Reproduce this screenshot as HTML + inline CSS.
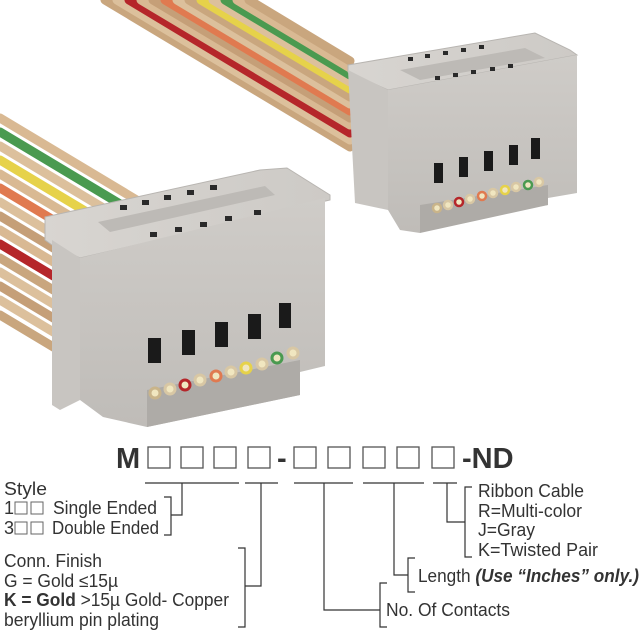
<!DOCTYPE html>
<html><head><meta charset="utf-8"><style>
html,body{margin:0;padding:0;background:#fff;}
svg{display:block;}
text{font-family:"Liberation Sans",Arial,sans-serif;fill:#333;}
</style></head><body>
<svg width="640" height="640" viewBox="0 0 640 640" xmlns="http://www.w3.org/2000/svg">
<defs>
<linearGradient id="fg" x1="0" y1="0" x2="0" y2="1"><stop offset="0" stop-color="#cfccc8"/><stop offset="1" stop-color="#bfbcb8"/></linearGradient>
<linearGradient id="tg" x1="0" y1="0" x2="1" y2="0"><stop offset="0" stop-color="#d8d5d1"/><stop offset="1" stop-color="#cdcac6"/></linearGradient>
</defs>
<g stroke-linecap="round" fill="none" stroke-width="9">
<path d="M105 0 L350 147" stroke="#c9a67e"/>
<path d="M117 0 L350 140" stroke="#dcc09c"/>
<path d="M129 0 L350 133" stroke="#b5262a"/>
<path d="M141 0 L350 125" stroke="#d9b993"/>
<path d="M153 0 L350 118" stroke="#c59f78"/>
<path d="M165 0 L350 111" stroke="#e07a50"/>
<path d="M177 0 L350 104" stroke="#dcc09c"/>
<path d="M189 0 L350 97" stroke="#c9a67e"/>
<path d="M201 0 L350 89" stroke="#e6d24a"/>
<path d="M213 0 L350 82" stroke="#dcc09c"/>
<path d="M225 0 L350 75" stroke="#4a9a50"/>
<path d="M237 0 L350 68" stroke="#d9b993"/>
<path d="M249 0 L350 61" stroke="#c9a67e"/>
</g>
<g stroke-linecap="round" fill="none" stroke-width="9">
<path d="M0 315 L120 387" stroke="#c9a67e"/>
<path d="M0 300 L130 378" stroke="#dcc09c"/>
<path d="M0 286 L140 370" stroke="#c59f78"/>
<path d="M0 272 L150 362" stroke="#dcc09c"/>
<path d="M0 258 L160 354" stroke="#c9a67e"/>
<path d="M0 244 L170 346" stroke="#b5262a"/>
<path d="M0 230 L180 338" stroke="#d9b993"/>
<path d="M0 216 L190 330" stroke="#c59f78"/>
<path d="M0 202 L200 322" stroke="#dcc09c"/>
<path d="M0 188 L210 314" stroke="#e07a50"/>
<path d="M0 174 L220 306" stroke="#d9b993"/>
<path d="M0 160 L230 298" stroke="#e6d24a"/>
<path d="M0 146 L240 290" stroke="#dcc09c"/>
<path d="M0 132 L250 282" stroke="#4a9a50"/>
<path d="M0 118 L260 274" stroke="#d9b993"/>
</g>
<g>
<polygon points="348,65 535,33 570,50 577,55 388,90 348,72" fill="url(#tg)" stroke="#b8b5b1" stroke-width="1"/>
<polygon points="400,70 525,48 545,58 420,80" fill="#bdbab6"/>
<polygon points="348,70 388,90 388,210 355,203" fill="#c8c5c1"/>
<polygon points="388,90 577,55 577,193 548,198 548,205 420,225 420,233 400,230 388,210" fill="url(#fg)"/>
<polygon points="420,205 548,185 548,205 420,233" fill="#aeaba7"/>
<g fill="#1a1a1a">
<rect x="434" y="163" width="9" height="20"/><rect x="459" y="157" width="9" height="20"/><rect x="484" y="151" width="9" height="20"/><rect x="509" y="145" width="9" height="20"/><rect x="531" y="138" width="9" height="21"/>
</g>
<g stroke-width="2.5">
<circle cx="437" cy="208" r="4" fill="#f0e6c0" stroke="#c9b48a"/><circle cx="448" cy="205" r="4" fill="#f0e6c0" stroke="#d8c7a4"/><circle cx="459" cy="202" r="4" fill="#f0e6c0" stroke="#b5262a"/><circle cx="470" cy="199" r="4" fill="#f0e6c0" stroke="#d8c7a4"/><circle cx="482" cy="196" r="4" fill="#f0e6c0" stroke="#e07a50"/><circle cx="493" cy="193" r="4" fill="#f0e6c0" stroke="#d8c7a4"/><circle cx="505" cy="190" r="4" fill="#f0e6c0" stroke="#e6d24a"/><circle cx="516" cy="187" r="4" fill="#f0e6c0" stroke="#d8c7a4"/><circle cx="528" cy="185" r="4" fill="#f0e6c0" stroke="#4a9a50"/><circle cx="539" cy="182" r="4" fill="#f0e6c0" stroke="#d8c7a4"/>
</g>
<g fill="#2a2a2a"><rect x="408" y="57" width="5" height="4"/><rect x="425" y="54" width="5" height="4"/><rect x="443" y="51" width="5" height="4"/><rect x="461" y="48" width="5" height="4"/><rect x="479" y="45" width="5" height="4"/>
<rect x="435" y="76" width="5" height="4"/><rect x="453" y="73" width="5" height="4"/><rect x="471" y="70" width="5" height="4"/><rect x="490" y="67" width="5" height="4"/><rect x="508" y="64" width="5" height="4"/></g>
</g>
<g>
<polygon points="45,217 260,170 287,168 330,195 330,200 80,258 52,245 45,240" fill="url(#tg)" stroke="#b8b5b1" stroke-width="1"/>
<polygon points="98,222 265,186 275,195 110,232" fill="#bdbab6"/>
<polygon points="52,240 80,258 80,400 60,410 52,405" fill="#c8c5c1"/>
<polygon points="80,258 325,198 325,366 300,372 300,395 147,427 103,417 80,400" fill="url(#fg)"/>
<polygon points="147,390 300,360 300,395 147,427" fill="#aeaba7"/>
<g fill="#1a1a1a">
<rect x="148" y="338" width="13" height="25"/><rect x="182" y="330" width="13" height="25"/><rect x="215" y="322" width="13" height="25"/><rect x="248" y="314" width="13" height="25"/><rect x="279" y="303" width="12" height="25"/>
</g>
<g stroke-width="3">
<circle cx="155" cy="393" r="5" fill="#f0e6c0" stroke="#c9b48a"/><circle cx="170" cy="389" r="5" fill="#f0e6c0" stroke="#d8c7a4"/><circle cx="185" cy="385" r="5" fill="#f0e6c0" stroke="#b5262a"/><circle cx="200" cy="380" r="5" fill="#f0e6c0" stroke="#d8c7a4"/><circle cx="216" cy="376" r="5" fill="#f0e6c0" stroke="#e07a50"/><circle cx="231" cy="372" r="5" fill="#f0e6c0" stroke="#d8c7a4"/><circle cx="246" cy="368" r="5" fill="#f0e6c0" stroke="#e6d24a"/><circle cx="262" cy="364" r="5" fill="#f0e6c0" stroke="#d8c7a4"/><circle cx="277" cy="358" r="5" fill="#f0e6c0" stroke="#4a9a50"/><circle cx="293" cy="353" r="5" fill="#f0e6c0" stroke="#d8c7a4"/>
</g>
<g fill="#2a2a2a"><rect x="120" y="205" width="7" height="5"/><rect x="142" y="200" width="7" height="5"/><rect x="164" y="195" width="7" height="5"/><rect x="187" y="190" width="7" height="5"/><rect x="210" y="185" width="7" height="5"/>
<rect x="150" y="232" width="7" height="5"/><rect x="175" y="227" width="7" height="5"/><rect x="200" y="222" width="7" height="5"/><rect x="225" y="216" width="7" height="5"/><rect x="254" y="210" width="7" height="5"/></g>
</g>

<text x="116" y="468" font-size="29" font-weight="bold">M</text>
<g fill="none" stroke="#555" stroke-width="1.3">
<rect x="148" y="447" width="22" height="21"/><rect x="181" y="447" width="22" height="21"/><rect x="214" y="447" width="22" height="21"/><rect x="248" y="447" width="22" height="21"/>
<rect x="294" y="447" width="22" height="21"/><rect x="328" y="447" width="22" height="21"/><rect x="363" y="447" width="22" height="21"/><rect x="397" y="447" width="22" height="21"/><rect x="432" y="447" width="22" height="21"/>
</g>
<text x="277" y="468" font-size="29" font-weight="bold">-</text>
<text x="462" y="468" font-size="29" font-weight="bold">-ND</text>

<g stroke="#333" stroke-width="1.2" fill="none">
<path d="M145 483H239 M245 483H278 M294 483H353 M363 483H424 M433 483H457"/>
<path d="M182 483V515H171 M164 497H171V535H164"/>
<path d="M261 483V586H245 M238 548H245V627H238"/>
<path d="M324 483V610H380 M387 583H380V627H387"/>
<path d="M394 483V575H408 M415 558H408V592H415"/>
<path d="M447 483V522H465 M472 487H465V557H472"/>
</g>

<g font-size="18">
<text x="4" y="495" textLength="43" lengthAdjust="spacingAndGlyphs">Style</text>
<text x="4" y="514">1</text>
<text x="53" y="514" textLength="104" lengthAdjust="spacingAndGlyphs">Single Ended</text>
<text x="4" y="534">3</text>
<text x="52" y="534" textLength="107" lengthAdjust="spacingAndGlyphs">Double Ended</text>
<text x="4" y="567" textLength="98" lengthAdjust="spacingAndGlyphs">Conn. Finish</text>
<text x="4" y="587" textLength="114" lengthAdjust="spacingAndGlyphs">G = Gold ≤15µ</text>
<text x="4" y="606" textLength="225" lengthAdjust="spacingAndGlyphs"><tspan font-weight="bold">K = Gold</tspan> &gt;15µ Gold- Copper</text>
<text x="4" y="626" textLength="155" lengthAdjust="spacingAndGlyphs">beryllium pin plating</text>
<text x="478" y="497" textLength="106" lengthAdjust="spacingAndGlyphs">Ribbon Cable</text>
<text x="478" y="517" textLength="104" lengthAdjust="spacingAndGlyphs">R=Multi-color</text>
<text x="478" y="536" textLength="57" lengthAdjust="spacingAndGlyphs">J=Gray</text>
<text x="478" y="556" textLength="120" lengthAdjust="spacingAndGlyphs">K=Twisted Pair</text>
<text x="418" y="582" textLength="221" lengthAdjust="spacingAndGlyphs">Length <tspan font-weight="bold" font-style="italic">(Use “Inches” only.)</tspan></text>
<text x="386" y="616" textLength="124" lengthAdjust="spacingAndGlyphs">No. Of Contacts</text>
</g>
<g fill="none" stroke="#666" stroke-width="1">
<rect x="15" y="502" width="12" height="12"/><rect x="31" y="502" width="12" height="12"/>
<rect x="15" y="522" width="12" height="12"/><rect x="31" y="522" width="12" height="12"/>
</g>
</svg>
</body></html>
